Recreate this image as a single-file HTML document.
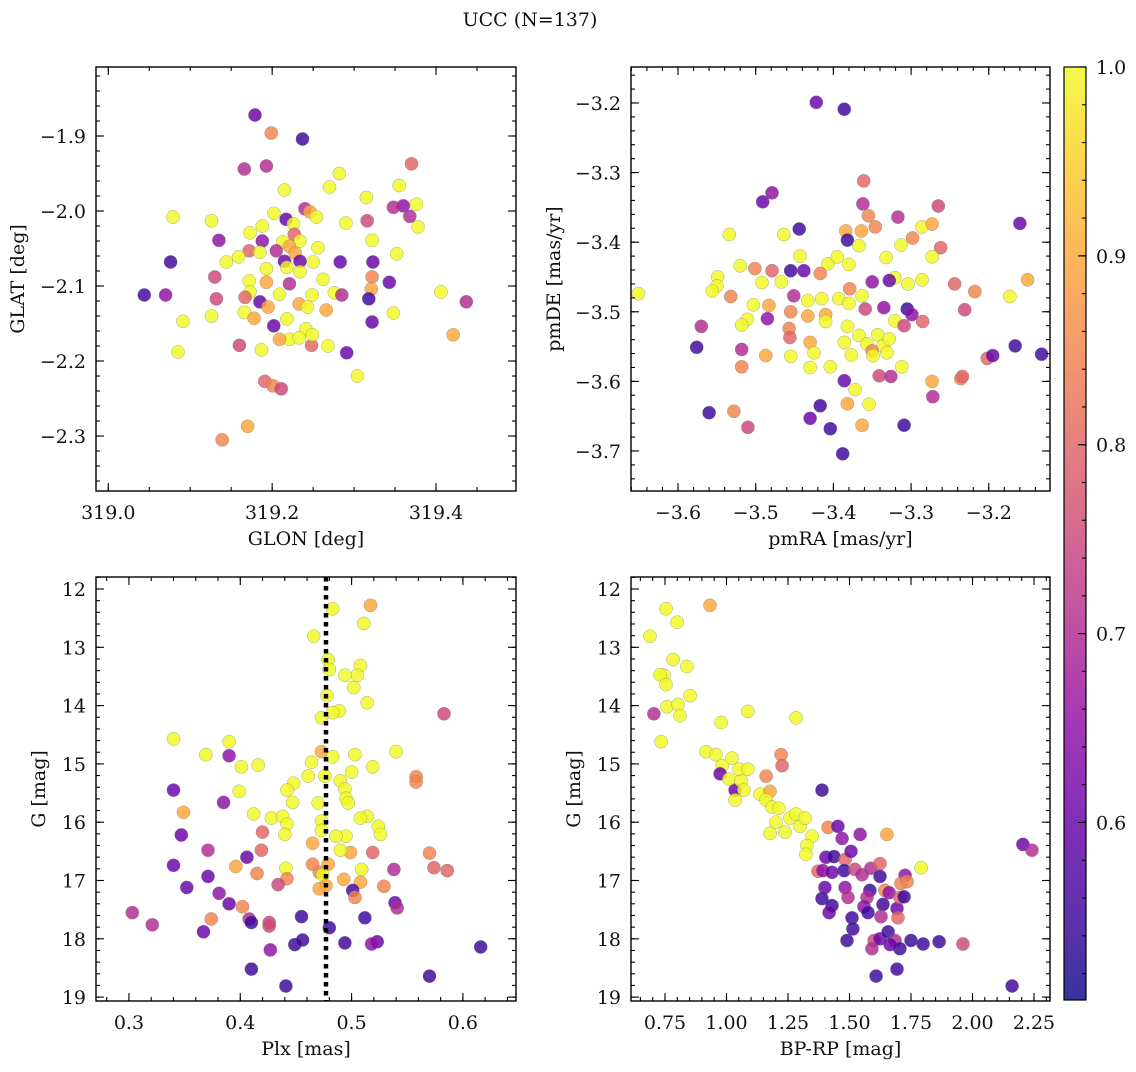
<!DOCTYPE html>
<html><head><meta charset="utf-8"><title>UCC (N=137)</title>
<style>
html,body{margin:0;padding:0;background:#fff;}
svg text{font-family:"DejaVu Serif","Liberation Serif",serif;fill:#111;}
</style></head>
<body>
<svg id="fig" width="1136" height="1067" viewBox="0 0 1136 1067" xmlns="http://www.w3.org/2000/svg">
<text x="530" y="26" font-size="19" text-anchor="middle">UCC (N=137)</text>
</svg>
<script>
// ---------- Panel 1: GLON vs GLAT ----------
const p1Lon=[319.179,319.199,319.237,319.166,319.193,319.370,319.282,319.355,319.270,319.215,319.315,319.360,319.376,319.348,319.240,319.246,319.202,319.079,319.368,319.254,319.290,319.126,319.217,319.188,319.226,319.316,319.378,319.173,319.227,319.213,319.234,319.322,319.135,319.188,319.221,319.172,319.185,319.205,319.228,319.256,319.352,319.159,319.215,319.234,319.250,319.283,319.323,319.076,319.144,319.193,319.218,319.234,319.130,319.322,319.172,319.262,319.193,319.221,319.173,319.276,319.343,319.406,319.321,319.044,319.070,319.167,319.209,319.249,319.285,319.318,319.132,319.185,319.233,319.091,319.126,319.166,319.195,319.218,319.243,319.266,319.322,319.348,319.202,319.178,319.241,319.421,319.437,319.221,319.233,319.209,319.248,319.160,319.249,319.268,319.085,319.187,319.291,319.304,319.191,319.201,319.211,319.170,319.139];
const p1Lat=[-1.872,-1.896,-1.904,-1.944,-1.940,-1.937,-1.950,-1.966,-1.968,-1.972,-1.982,-1.993,-1.991,-1.995,-1.997,-2.001,-2.003,-2.008,-2.007,-2.008,-2.016,-2.013,-2.011,-2.020,-2.017,-2.013,-2.021,-2.029,-2.031,-2.041,-2.040,-2.039,-2.039,-2.040,-2.047,-2.053,-2.055,-2.053,-2.056,-2.049,-2.057,-2.061,-2.067,-2.067,-2.068,-2.068,-2.068,-2.068,-2.068,-2.077,-2.075,-2.081,-2.088,-2.088,-2.093,-2.091,-2.095,-2.097,-2.108,-2.109,-2.095,-2.108,-2.104,-2.112,-2.112,-2.115,-2.111,-2.112,-2.112,-2.117,-2.117,-2.121,-2.124,-2.147,-2.140,-2.135,-2.128,-2.144,-2.128,-2.132,-2.148,-2.136,-2.153,-2.143,-2.157,-2.165,-2.121,-2.171,-2.169,-2.171,-2.179,-2.179,-2.165,-2.180,-2.188,-2.185,-2.189,-2.220,-2.227,-2.233,-2.237,-2.287,-2.305];
const p1Prob=[.6,.85,.55,.7,.7,.8,1,1,1,1,1,.65,1,.7,.7,.9,1,1,.7,1,1,1,.6,1,1,.75,1,1,.8,1,1,1,.65,.65,.9,.8,1,.7,.9,1,1,1,.6,.6,1,.6,.6,.55,1,1,1,1,.75,.85,1,1,.9,.7,1,1,.6,1,.9,.55,.65,.8,1,1,.7,.55,.75,.6,.9,1,1,1,.9,1,1,.9,.6,1,.6,.9,1,.9,.7,1,1,.9,.8,.75,1,1,1,1,.6,1,.8,.85,.75,.9,.85];
const p1XTicks=[319.0,319.2,319.4];
const p1XTickLabels=["319.0","319.2","319.4"];
const p1YTicks=[-1.9,-2.0,-2.1,-2.2,-2.3];
const p1YTickLabels=["\u22121.9","\u22122.0","\u22122.1","\u22122.2","\u22122.3"];

// ---------- Panel 2: pmRA vs pmDE ----------
const p2Ra=[-3.422,-3.386,-3.361,-3.491,-3.479,-3.362,-3.265,-3.384,-3.364,-3.355,-3.346,-3.382,-3.444,-3.464,-3.534,-3.317,-3.286,-3.273,-3.160,-3.262,-3.298,-3.313,-3.367,-3.332,-3.273,-3.443,-3.380,-3.407,-3.395,-3.520,-3.501,-3.479,-3.455,-3.438,-3.417,-3.549,-3.321,-3.328,-3.286,-3.304,-3.350,-3.379,-3.492,-3.467,-3.244,-3.218,-3.150,-3.173,-3.651,-3.550,-3.556,-3.532,-3.451,-3.433,-3.415,-3.393,-3.380,-3.363,-3.335,-3.359,-3.305,-3.299,-3.483,-3.503,-3.511,-3.485,-3.455,-3.433,-3.410,-3.321,-3.285,-3.231,-3.518,-3.570,-3.457,-3.410,-3.382,-3.309,-3.456,-3.367,-3.343,-3.430,-3.425,-3.386,-3.357,-3.336,-3.328,-3.377,-3.350,-3.331,-3.349,-3.518,-3.576,-3.487,-3.455,-3.430,-3.404,-3.518,-3.312,-3.202,-3.195,-3.166,-3.132,-3.236,-3.341,-3.326,-3.386,-3.372,-3.273,-3.234,-3.560,-3.528,-3.417,-3.382,-3.354,-3.430,-3.510,-3.404,-3.363,-3.309,-3.388,-3.272];
const p2De=[-3.199,-3.209,-3.312,-3.342,-3.329,-3.345,-3.348,-3.384,-3.384,-3.362,-3.378,-3.397,-3.381,-3.389,-3.389,-3.364,-3.378,-3.374,-3.373,-3.408,-3.394,-3.404,-3.405,-3.422,-3.421,-3.420,-3.432,-3.431,-3.421,-3.434,-3.438,-3.441,-3.441,-3.441,-3.445,-3.450,-3.451,-3.455,-3.454,-3.460,-3.457,-3.467,-3.458,-3.457,-3.460,-3.471,-3.454,-3.478,-3.474,-3.463,-3.470,-3.478,-3.477,-3.484,-3.481,-3.481,-3.488,-3.477,-3.494,-3.496,-3.496,-3.504,-3.491,-3.490,-3.511,-3.510,-3.500,-3.506,-3.504,-3.513,-3.514,-3.497,-3.519,-3.521,-3.524,-3.514,-3.521,-3.520,-3.537,-3.534,-3.533,-3.544,-3.559,-3.544,-3.546,-3.549,-3.539,-3.562,-3.556,-3.559,-3.563,-3.554,-3.551,-3.563,-3.564,-3.580,-3.579,-3.579,-3.579,-3.567,-3.563,-3.549,-3.561,-3.596,-3.592,-3.593,-3.599,-3.612,-3.600,-3.593,-3.645,-3.643,-3.635,-3.632,-3.633,-3.653,-3.666,-3.668,-3.663,-3.663,-3.704,-3.622];
const p2Prob=[.6,.55,.8,.6,.65,.7,.75,.9,.9,.85,.85,.55,.55,1,1,.7,1,.9,.6,.8,.85,1,1,1,1,1,1,1,1,1,.85,.8,.55,.6,.85,1,1,.6,1,1,.65,.85,1,1,.8,.85,.9,1,1,1,1,.85,.7,1,1,1,1,1,.65,.75,.55,.65,.9,1,1,.65,.85,.9,.9,1,.8,.75,1,.7,.85,1,1,.75,.8,1,1,.9,1,1,1,1,1,1,.85,1,1,.7,.55,.9,1,1,1,.85,1,.8,.6,.55,.55,.85,.75,.7,.6,1,.9,.8,.55,.85,.55,.9,1,.6,.75,.55,.9,.55,.55,.7];
const p2XTicks=[-3.6,-3.5,-3.4,-3.3,-3.2];
const p2XTickLabels=["\u22123.6","\u22123.5","\u22123.4","\u22123.3","\u22123.2"];
const p2YTicks=[-3.2,-3.3,-3.4,-3.5,-3.6,-3.7];
const p2YTickLabels=["\u22123.2","\u22123.3","\u22123.4","\u22123.5","\u22123.6","\u22123.7"];

// ---------- Panel 3: Plx vs G ----------
const p3Plx=[0.483,0.517,0.466,0.511,0.479,0.480,0.508,0.505,0.494,0.502,0.478,0.514,0.489,0.483,0.473,0.583,0.340,0.390,0.369,0.390,0.540,0.473,0.483,0.503,0.401,0.416,0.500,0.464,0.461,0.476,0.519,0.490,0.448,0.442,0.558,0.558,0.340,0.399,0.494,0.495,0.497,0.470,0.447,0.349,0.385,0.412,0.514,0.508,0.428,0.438,0.442,0.473,0.473,0.524,0.440,0.420,0.495,0.486,0.526,0.347,0.465,0.499,0.519,0.490,0.371,0.419,0.406,0.465,0.471,0.479,0.509,0.340,0.396,0.441,0.538,0.570,0.574,0.586,0.371,0.415,0.442,0.474,0.493,0.508,0.477,0.471,0.434,0.501,0.352,0.503,0.529,0.381,0.390,0.402,0.539,0.541,0.374,0.408,0.455,0.512,0.426,0.303,0.321,0.367,0.410,0.426,0.480,0.449,0.456,0.494,0.523,0.518,0.427,0.616,0.410,0.441,0.570];
const p3G=[12.34,12.28,12.81,12.59,13.21,13.38,13.31,13.48,13.48,13.69,13.83,13.95,14.09,14.12,14.21,14.14,14.57,14.62,14.84,14.86,14.79,14.79,14.88,14.84,15.05,15.02,15.14,14.97,15.21,15.21,15.05,15.29,15.33,15.45,15.22,15.31,15.45,15.47,15.43,15.59,15.67,15.67,15.66,15.83,15.66,15.86,15.90,15.93,15.93,15.90,16.03,15.98,16.14,16.07,16.21,16.17,16.24,16.24,16.21,16.22,16.36,16.52,16.52,16.48,16.48,16.48,16.60,16.72,16.86,16.72,16.81,16.74,16.76,16.79,16.81,16.53,16.78,16.83,16.93,16.88,16.97,16.90,16.98,17.03,17.09,17.14,17.07,17.17,17.12,17.29,17.10,17.22,17.40,17.45,17.38,17.47,17.66,17.66,17.62,17.64,17.72,17.55,17.76,17.88,17.72,17.78,17.81,18.10,18.02,18.07,18.05,18.09,18.19,18.14,18.52,18.81,18.64];
const p3Prob=[1,.9,1,1,1,1,1,1,1,1,1,1,1,1,1,.75,1,1,1,.65,1,.9,1,1,1,1,1,1,1,1,1,1,1,1,.85,.85,.6,1,1,1,1,1,1,.9,.65,1,1,1,1,1,1,1,1,1,1,.8,1,1,1,.6,.9,.9,.8,1,.7,.8,.6,.85,.85,.9,1,.6,.9,1,.7,.85,.8,.8,.6,.85,.85,1,.9,.9,.9,.9,.75,.55,.6,.85,.85,.65,.6,.85,.6,.7,.85,.7,.55,.55,.75,.7,.7,.6,.55,.75,.55,.55,.55,.55,.6,.65,.65,.55,.55,.55,.55];
const plxMean=[0.477];
const p3XTicks=[0.3,0.4,0.5,0.6];
const p3XTickLabels=["0.3","0.4","0.5","0.6"];
const gTicks=[12,13,14,15,16,17,18,19];
const gTickLabels=["12","13","14","15","16","17","18","19"];

// ---------- Panel 4: BP-RP vs G ----------
const p4Col=[0.689,0.754,0.799,0.933,0.746,0.730,0.754,0.783,0.839,0.705,0.758,0.803,0.811,0.852,0.734,0.978,1.087,1.283,0.917,0.957,0.982,1.022,0.974,1.035,1.010,1.059,1.051,1.087,1.071,1.035,1.136,1.222,1.226,1.161,1.177,1.161,1.185,1.213,1.201,1.258,1.177,1.238,1.283,1.299,1.319,1.388,1.413,1.348,1.327,1.323,1.453,1.470,1.543,1.652,1.404,1.437,1.482,1.506,1.478,1.372,1.392,1.429,1.522,1.587,1.624,1.551,1.726,1.791,1.709,1.734,1.624,1.400,1.482,1.583,1.644,1.661,1.693,1.705,1.722,1.571,1.494,1.559,1.636,1.388,1.429,1.510,1.575,1.628,1.697,1.417,1.514,1.490,1.600,1.624,1.657,1.685,1.705,1.750,1.799,1.864,1.591,1.665,1.608,1.693,1.961,2.161,2.205,2.242];
const p4G=[12.81,12.34,12.57,12.28,13.48,13.47,13.64,13.21,13.33,14.14,14.02,13.98,14.17,13.83,14.62,14.29,14.10,14.21,14.79,14.84,15.03,14.90,15.17,15.45,15.26,15.29,15.09,15.09,15.45,15.62,15.52,14.84,15.03,15.21,15.47,15.62,15.74,15.76,16.00,15.93,16.19,16.17,15.86,16.07,15.93,15.45,16.09,16.24,16.40,16.55,16.07,16.28,16.21,16.21,16.60,16.59,16.64,16.50,16.83,16.84,16.83,16.86,16.81,16.79,16.71,16.90,16.91,16.78,17.05,17.02,16.93,17.12,17.12,17.17,17.17,17.21,17.48,17.29,17.28,17.29,17.29,17.45,17.41,17.31,17.43,17.64,17.55,17.62,17.64,17.55,17.83,18.03,18.03,18.00,17.88,18.03,18.17,18.03,18.09,18.05,18.17,18.10,18.64,18.52,18.09,18.81,16.38,16.48];
const p4Prob=[1,1,1,.9,1,1,1,1,1,.7,1,1,1,1,1,1,1,1,1,1,1,1,.6,.6,1,1,1,1,1,1,1,.85,.8,.85,.9,1,1,1,1,1,1,1,1,1,1,.55,.85,1,1,1,.6,.65,.65,.9,.6,.55,.8,.6,.55,.8,.65,.6,.75,.7,.8,.7,.65,1,.85,.85,.55,.6,.65,.55,.85,.65,.6,.8,.55,.7,.7,.65,.55,.55,.55,.55,.55,.7,.8,.6,.55,.55,.75,.6,.55,.7,.55,.55,.55,.55,.7,.6,.55,.55,.75,.55,.6,.7];
const p4XTicks=[0.75,1.00,1.25,1.50,1.75,2.00,2.25];
const p4XTickLabels=["0.75","1.00","1.25","1.50","1.75","2.00","2.25"];

// ---------- Colorbar ----------
const cbarRange=[0.506,1.0];
const cbarTicks=[0.6,0.7,0.8,0.9,1.0];
const cbarTickLabels=["0.6","0.7","0.8","0.9","1.0"];

const NS="http://www.w3.org/2000/svg";
const svg=document.getElementById('fig');
const FS=19;
function mk(tag,attrs,parent){const e=document.createElementNS(NS,tag);for(const k in attrs)e.setAttribute(k,attrs[k]);(parent||svg).appendChild(e);return e;}

const PL=[[0,13,8,135],[0.1,65,4,157],[0.2,106,0,168],[0.3,143,13,164],[0.4,177,42,144],[0.5,204,71,120],[0.6,225,100,98],[0.7,242,132,75],[0.8,252,166,54],[0.9,252,206,37],[1,240,249,33]];
function plasma(t){t=Math.max(0,Math.min(1,t));for(let i=0;i<PL.length-1;i++){const a=PL[i],b=PL[i+1];if(t<=b[0]){const f=(t-a[0])/(b[0]-a[0]);return 'rgb('+[1,2,3].map(j=>Math.round(a[j]+f*(b[j]-a[j]))).join(',')+')';}}return 'rgb(240,249,33)';}
function probColor(p){return plasma((p-cbarRange[0])/(cbarRange[1]-cbarRange[0]));}

function panel(cfg){
  const g=mk('g',{});
  
  
  const {x0,x1,y0,y1,xd,yd}=cfg;
  const sx=v=>x0+(v-xd[0])/(xd[1]-xd[0])*(x1-x0);
  const sy=v=>y0+(v-yd[0])/(yd[1]-yd[0])*(y1-y0);
  const pts=mk('g',{},g);
  
  
  for(let i=0;i<cfg.xs.length;i++){
    const c=mk('circle',{cx:sx(cfg.xs[i]).toFixed(1),cy:sy(cfg.ys[i]).toFixed(1),r:6.6,fill:probColor(cfg.ps[i]),'fill-opacity':0.82,stroke:'#777','stroke-width':0.5,'stroke-opacity':0.6},pts);
    
    
  }
  if(cfg.vline){
    const l=mk('line',{x1:sx(cfg.vline[0]),x2:sx(cfg.vline[0]),y1:y0,y2:y1,stroke:'#000','stroke-width':4.5,'stroke-dasharray':'4.5,4.5'},g);
    
    
  }
  const frame=mk('rect',{x:x0,y:y0,width:x1-x0,height:y1-y0,fill:'none',stroke:'#000','stroke-width':1.4},g);
  
  
  const tk=mk('g',{stroke:'#000','stroke-width':1.1},g);
  
  
  const eps=1e-9;
  let start=Math.ceil(Math.min(xd[0],xd[1])/cfg.xminor-eps)*cfg.xminor;
  for(let v=start;v<=Math.max(xd[0],xd[1])+eps;v+=cfg.xminor){const X=sx(v);mk('line',{x1:X,x2:X,y1:y1,y2:y1-4},tk);mk('line',{x1:X,x2:X,y1:y0,y2:y0+4},tk);}
  start=Math.ceil(Math.min(yd[0],yd[1])/cfg.yminor-eps)*cfg.yminor;
  for(let v=start;v<=Math.max(yd[0],yd[1])+eps;v+=cfg.yminor){const Y=sy(v);mk('line',{x1:x0,x2:x0+4,y1:Y,y2:Y},tk);mk('line',{x1:x1,x2:x1-4,y1:Y,y2:Y},tk);}
  cfg.xt.forEach((v,i)=>{const X=sx(v);mk('line',{x1:X,x2:X,y1:y1,y2:y1-8},tk);mk('line',{x1:X,x2:X,y1:y0,y2:y0+8},tk);
    const t=mk('text',{x:X,y:y1+28,'font-size':FS,'text-anchor':'middle'},g);t.textContent=cfg.xtl[i];
    
    });
  cfg.yt.forEach((v,i)=>{const Y=sy(v);mk('line',{x1:x0,x2:x0+8,y1:Y,y2:Y},tk);mk('line',{x1:x1,x2:x1-8,y1:Y,y2:Y},tk);
    const t=mk('text',{x:x0-10,y:Y+7,'font-size':FS,'text-anchor':'end'},g);t.textContent=cfg.ytl[i];
    
    });
  const xl=mk('text',{x:(x0+x1)/2,y:y1+54,'font-size':FS,'text-anchor':'middle'},g);xl.textContent=cfg.xlabel;
  
  
  const yl=mk('text',{x:cfg.ylx,y:(y0+y1)/2,'font-size':FS,'text-anchor':'middle',transform:'rotate(-90 '+cfg.ylx+' '+((y0+y1)/2)+')'},g);yl.textContent=cfg.ylabel;
  
  
}

panel({name:'panel-glon-glat',x0:96,x1:516,y0:67,y1:491,xd:[318.985,319.4976],yd:[-1.808,-2.3733],xs:p1Lon,ys:p1Lat,ps:p1Prob,xt:p1XTicks,xtl:p1XTickLabels,yt:p1YTicks,ytl:p1YTickLabels,xminor:0.05,yminor:0.02,xlabel:'GLON [deg]',ylabel:'GLAT [deg]',ylx:24});
panel({name:'panel-pmra-pmde',x0:631,x1:1050,y0:67,y1:491,xd:[-3.6605,-3.1212],yd:[-3.1483,-3.7575],xs:p2Ra,ys:p2De,ps:p2Prob,xt:p2XTicks,xtl:p2XTickLabels,yt:p2YTicks,ytl:p2YTickLabels,xminor:0.02,yminor:0.02,xlabel:'pmRA [mas/yr]',ylabel:'pmDE [mas/yr]',ylx:560});
panel({name:'panel-plx-g',x0:96,x1:516,y0:577,y1:1001,xd:[0.2704,0.6477],yd:[11.794,19.067],xs:p3Plx,ys:p3G,ps:p3Prob,xt:p3XTicks,xtl:p3XTickLabels,yt:gTicks,ytl:gTickLabels,xminor:0.02,yminor:0.2,xlabel:'Plx [mas]',ylabel:'G [mag]',ylx:45,vline:plxMean});
panel({name:'panel-cmd',x0:631,x1:1050,y0:577,y1:1001,xd:[0.6118,2.315],yd:[11.794,19.067],xs:p4Col,ys:p4G,ps:p4Prob,xt:p4XTicks,xtl:p4XTickLabels,yt:gTicks,ytl:gTickLabels,xminor:0.05,yminor:0.2,xlabel:'BP-RP [mag]',ylabel:'G [mag]',ylx:580});

(function(){
  const cx0=1064,cx1=1086,cy0=67,cy1=1000;
  const g=mk('g',{});
  
  
  const defs=mk('defs',{},g);
  const lg=mk('linearGradient',{id:'cbg',x1:0,y1:1,x2:0,y2:0},defs);
  for(let i=0;i<=20;i++){const t=i/20;mk('stop',{offset:t,'stop-color':plasma(t),'stop-opacity':0.82},lg);}
  const r=mk('rect',{x:cx0,y:cy0,width:cx1-cx0,height:cy1-cy0,fill:'url(#cbg)',stroke:'#000','stroke-width':1.2},g);
  
  
  const sy=v=>cy1-(v-cbarRange[0])/(cbarRange[1]-cbarRange[0])*(cy1-cy0);
  for(let v=0.52;v<=1.0001;v+=0.02){const Y=sy(v);mk('line',{x1:cx1,x2:cx1-4,y1:Y,y2:Y,stroke:'#000','stroke-width':1.1},g);}
  cbarTicks.forEach((v,i)=>{const Y=sy(v);mk('line',{x1:cx1,x2:cx1-8,y1:Y,y2:Y,stroke:'#000','stroke-width':1.1},g);
    const t=mk('text',{x:cx1+10,y:Y+7,'font-size':FS},g);t.textContent=cbarTickLabels[i];
    
    });
})();
</script>
</body></html>
